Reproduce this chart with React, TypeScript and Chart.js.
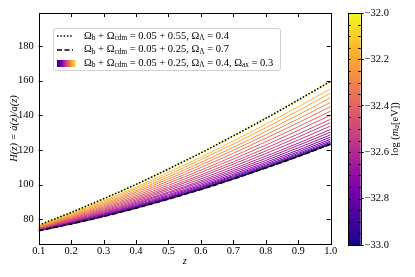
import React, { useEffect, useRef } from 'react';
import { Chart, registerables } from 'chart.js';

Chart.register(...registerables);

// ---------------- data ----------------
const zValues = [0.1, 0.2, 0.3, 0.4, 0.5, 0.6, 0.7, 0.8, 0.9, 1.0];

// Omega_b + Omega_cdm = 0.05 + 0.55, Omega_L = 0.4 (dotted)
const dottedH = [76.6, 83.9, 91.8, 100.1, 109.0, 118.3, 128.1, 138.2, 148.8, 159.6];
// Omega_b + Omega_cdm = 0.05 + 0.25, Omega_L = 0.7 (dashed)
const dashedH = [73.4, 77.3, 81.6, 86.4, 91.6, 97.2, 103.2, 109.6, 116.2, 123.3];

// log(m_a [eV]) of each coloured curve
const logMass = [
  -33.0, -32.95, -32.9, -32.85, -32.8, -32.75, -32.7, -32.65, -32.6, -32.55, -32.5,
  -32.45, -32.4, -32.35, -32.3, -32.25, -32.2, -32.15, -32.1, -32.05, -32.0,
];

// H(z) of the axion models, one row per mass (same order as logMass)
const axionH = [
  [73.4, 77.3, 81.6, 86.4, 91.6, 97.2, 103.2, 109.6, 116.2, 123.3],
  [73.4, 77.3, 81.7, 86.5, 91.7, 97.3, 103.3, 109.7, 116.4, 123.4],
  [73.4, 77.4, 81.8, 86.6, 91.9, 97.6, 103.6, 110.0, 116.8, 123.8],
  [73.5, 77.5, 81.9, 86.8, 92.2, 97.9, 104.0, 110.5, 117.3, 124.4],
  [73.6, 77.6, 82.2, 87.1, 92.5, 98.4, 104.6, 111.1, 118.0, 125.2],
  [73.7, 77.8, 82.4, 87.5, 93.0, 98.9, 105.2, 111.9, 118.9, 126.2],
  [73.8, 78.0, 82.8, 87.9, 93.6, 99.6, 106.0, 112.8, 119.9, 127.4],
  [73.9, 78.3, 83.1, 88.5, 94.2, 100.4, 107.0, 113.9, 121.2, 128.7],
  [74.0, 78.6, 83.6, 89.1, 95.0, 101.3, 108.0, 115.1, 122.6, 130.3],
  [74.2, 78.8, 84.0, 89.7, 95.7, 102.2, 109.1, 116.4, 123.9, 131.9],
  [74.3, 79.2, 84.6, 90.4, 96.7, 103.3, 110.4, 117.9, 125.7, 133.8],
  [74.5, 79.6, 85.1, 91.1, 97.6, 104.5, 111.8, 119.4, 127.4, 135.8],
  [74.7, 79.9, 85.7, 91.9, 98.5, 105.6, 113.1, 121.0, 129.2, 137.7],
  [74.9, 80.3, 86.3, 92.7, 99.6, 107.0, 114.7, 122.8, 131.3, 140.1],
  [75.1, 80.8, 87.0, 93.6, 100.8, 108.3, 116.3, 124.7, 133.4, 142.4],
  [75.3, 81.2, 87.7, 94.6, 102.0, 109.8, 118.1, 126.7, 135.7, 145.0],
  [75.6, 81.7, 88.4, 95.6, 103.2, 111.3, 119.8, 128.7, 137.9, 147.5],
  [75.8, 82.2, 89.1, 96.5, 104.4, 112.8, 121.5, 130.7, 140.2, 150.1],
  [76.0, 82.7, 89.9, 97.6, 105.7, 114.4, 123.4, 132.8, 142.6, 152.8],
  [76.3, 83.1, 90.6, 98.5, 107.0, 115.8, 125.2, 134.8, 144.9, 155.3],
  [76.6, 83.9, 91.8, 100.1, 109.0, 118.3, 128.1, 138.2, 148.8, 159.6],
];

// colour of each curve (same order as logMass)
const curveColors = [
  '#0d0887', '#260591', '#3c049b', '#5002a2', '#6601a7', '#7a02a8', '#8808a6',
  '#9613a1', '#a31e9a', '#b12a90', '#bd3786', '#c7427c', '#d04c74', '#d8576b',
  '#e16462', '#ea7457', '#f2844b', '#f89540', '#fca636', '#feb72d', '#f0f921',
];

// plasma colormap, evenly sampled, for the colour bar and legend swatch
const plasmaStops = [
  '#0d0887', '#2c0594', '#41049d', '#5402a3', '#6a00a8', '#7e03a8', '#8f0da4',
  '#a11b9b', '#b12a90', '#bf3984', '#cc4778', '#d6556d', '#e16462', '#ea7457',
  '#f2844b', '#f89540', '#fca636', '#feb72d', '#fcce25', '#f7e225', '#f0f921',
];

const xTicks = [0.1, 0.2, 0.3, 0.4, 0.5, 0.6, 0.7, 0.8, 0.9, 1.0];
const yTicks = [80, 100, 120, 140, 160, 180];
const cbTicks = [-33.0, -32.8, -32.6, -32.4, -32.2, -32.0];
const cbMinorTicks = logMass;

const Y_MIN = 65.7;
const Y_MAX = 199;

// ---------------- styling ----------------
const FAMILY = "'Liberation Serif', 'DejaVu Serif', serif";
const FS = 10.5;
const W = 415;
const H = 277;

const toXY = (vals: number[]) => zValues.map((z, i) => ({ x: z, y: vals[i] }));

const frameTicksPlugin = {
  id: 'frameTicks',
  afterDatasetsDraw(chart: any) {
    const { ctx, chartArea } = chart;
    const { left, right, top, bottom } = chartArea;
    const xs = chart.scales.x;
    const ys = chart.scales.y;
    ctx.save();
    ctx.strokeStyle = '#000';
    ctx.lineWidth = 1;
    ctx.beginPath();
    xs.ticks.forEach((t: any) => {
      const px = Math.round(xs.getPixelForValue(t.value)) + 0.5;
      ctx.moveTo(px, bottom);
      ctx.lineTo(px, bottom - 4);
      ctx.moveTo(px, top);
      ctx.lineTo(px, top + 4);
    });
    ys.ticks.forEach((t: any) => {
      const py = Math.round(ys.getPixelForValue(t.value)) + 0.5;
      ctx.moveTo(left, py);
      ctx.lineTo(left + 4, py);
      ctx.moveTo(right, py);
      ctx.lineTo(right - 4, py);
    });
    ctx.stroke();
    ctx.strokeRect(Math.round(left) + 0.5, Math.round(top) + 0.5, Math.round(right - left), Math.round(bottom - top));
    ctx.restore();
  },
};

const colorbarPlugin = {
  id: 'colorbarDeco',
  afterDatasetsDraw(chart: any) {
    const { ctx, chartArea } = chart;
    const { left, right, top, bottom } = chartArea;
    const ys = chart.scales.y;
    ctx.save();
    ctx.strokeStyle = '#000';
    ctx.lineWidth = 1;
    ctx.beginPath();
    cbMinorTicks.forEach((v) => {
      const py = Math.round(ys.getPixelForValue(v)) + 0.5;
      ctx.moveTo(left, py);
      ctx.lineTo(left + 2.5, py);
      ctx.moveTo(right, py);
      ctx.lineTo(right - 2.5, py);
    });
    ctx.stroke();
    ctx.strokeRect(Math.round(left) + 0.5, Math.round(top) + 0.5, Math.round(right - left), Math.round(bottom - top));

    // rotated label: log (m_a[eV])
    const segs = [
      { t: 'log (', italic: false, sub: false },
      { t: 'm', italic: true, sub: false },
      { t: 'a', italic: true, sub: true },
      { t: '[eV])', italic: false, sub: false },
    ];
    const fontFor = (s: any) => `${s.italic ? 'italic ' : ''}${s.sub ? FS * 0.7 : FS}px ${FAMILY}`;
    let total = 0;
    const widths = segs.map((s) => {
      ctx.font = fontFor(s);
      const w = ctx.measureText(s.t).width;
      total += w;
      return w;
    });
    ctx.translate(65, (top + bottom) / 2);
    ctx.rotate(-Math.PI / 2);
    ctx.fillStyle = '#000';
    ctx.textBaseline = 'middle';
    ctx.textAlign = 'left';
    let x = -total / 2;
    segs.forEach((s, i) => {
      ctx.font = fontFor(s);
      ctx.fillText(s.t, x, s.sub ? 2.5 : 0);
      x += widths[i];
    });
    ctx.restore();
  },
};

const Sub = ({ children }: { children: React.ReactNode }) => (
  <span style={{ fontSize: '0.7em', position: 'relative', top: '0.25em' }}>{children}</span>
);

const LegendBox = () => {
  const rowStyle = (top: number): React.CSSProperties => ({
    position: 'absolute',
    left: 0,
    top,
    height: 14,
    width: '100%',
    display: 'flex',
    alignItems: 'center',
    whiteSpace: 'nowrap',
  });
  const textStyle: React.CSSProperties = { position: 'absolute', left: 30, lineHeight: '14px' };
  return (
    <div
      style={{
        position: 'absolute',
        left: 53,
        top: 28,
        width: 228,
        height: 43,
        boxSizing: 'border-box',
        border: '1px solid #d0d0d0',
        borderRadius: 3,
        background: 'rgba(255,255,255,0.85)',
        fontFamily: FAMILY,
        fontSize: FS,
        color: '#000',
      }}
    >
      <div style={rowStyle(0)}>
        <svg width={16} height={4} style={{ position: 'absolute', left: 3 }}>
          <line x1={0} y1={2} x2={16} y2={2} stroke="#000" strokeWidth={1.6} strokeDasharray="1.5 1.8" />
        </svg>
        <span style={textStyle}>
          Ω<Sub>b</Sub> + Ω<Sub>cdm</Sub> = 0.05 + 0.55, Ω<Sub>Λ</Sub> = 0.4
        </span>
      </div>
      <div style={rowStyle(13.5)}>
        <svg width={16} height={4} style={{ position: 'absolute', left: 3 }}>
          <line x1={0} y1={2} x2={16} y2={2} stroke="#000" strokeWidth={1.6} strokeDasharray="5 2.5" />
        </svg>
        <span style={textStyle}>
          Ω<Sub>b</Sub> + Ω<Sub>cdm</Sub> = 0.05 + 0.25, Ω<Sub>Λ</Sub> = 0.7
        </span>
      </div>
      <div style={rowStyle(27)}>
        <div
          style={{
            position: 'absolute',
            left: 3,
            width: 19,
            height: 7,
            background: `linear-gradient(to right, ${plasmaStops.join(', ')})`,
          }}
        />
        <span style={textStyle}>
          Ω<Sub>b</Sub> + Ω<Sub>cdm</Sub> = 0.05 + 0.25, Ω<Sub>Λ</Sub> = 0.4, Ω<Sub>ax</Sub> = 0.3
        </span>
      </div>
    </div>
  );
};

export default function App() {
  const mainRef = useRef<HTMLCanvasElement>(null);
  const cbRef = useRef<HTMLCanvasElement>(null);

  useEffect(() => {
    document.body.style.margin = '0';
    const tickFont = { family: FAMILY, size: FS };
    const titleFont = { family: FAMILY, size: FS, style: 'italic' as const };

    const datasets: any[] = [
      {
        label: 'Ωb + Ωcdm = 0.05 + 0.55, ΩΛ = 0.4',
        data: toXY(dottedH),
        borderColor: '#000',
        borderWidth: 1.6,
        borderDash: [1.5, 1.8],
        pointRadius: 0,
        fill: false,
        cubicInterpolationMode: 'monotone',
      },
      {
        label: 'Ωb + Ωcdm = 0.05 + 0.25, ΩΛ = 0.7',
        data: toXY(dashedH),
        borderColor: '#000',
        borderWidth: 1.6,
        borderDash: [5, 2.5],
        pointRadius: 0,
        fill: false,
        cubicInterpolationMode: 'monotone',
      },
    ];
    for (let k = axionH.length - 1; k >= 0; k--) {
      datasets.push({
        label: `log m_a = ${logMass[k]}`,
        data: toXY(axionH[k]),
        borderColor: curveColors[k],
        borderWidth: 1,
        pointRadius: 0,
        fill: false,
        cubicInterpolationMode: 'monotone',
      });
    }

    const main = new Chart(mainRef.current as HTMLCanvasElement, {
      type: 'line',
      data: { datasets },
      options: {
        responsive: false,
        animation: false,
        layout: { padding: { top: 13, right: W - 330.7, left: 0, bottom: 9 } },
        plugins: { legend: { display: false }, tooltip: { enabled: false } },
        scales: {
          x: {
            type: 'linear',
            min: 0.1,
            max: 1.0,
            afterBuildTicks: (s: any) => {
              s.ticks = xTicks.map((v) => ({ value: v }));
            },
            afterFit: (s: any) => {
              s.height = 24;
            },
            ticks: {
              callback: (v: any) => Number(v).toFixed(1),
              font: tickFont,
              color: '#000',
              padding: 1,
              maxRotation: 0,
              autoSkip: false,
            },
            grid: { display: false, drawTicks: false },
            border: { display: false },
            title: { display: true, text: 'z', font: titleFont, color: '#000', padding: { top: 0, bottom: 0 } },
          },
          y: {
            type: 'linear',
            min: Y_MIN,
            max: Y_MAX,
            afterBuildTicks: (s: any) => {
              s.ticks = yTicks.map((v) => ({ value: v }));
            },
            afterFit: (s: any) => {
              s.width = 38.7;
            },
            ticks: { font: tickFont, color: '#000', padding: 5 },
            grid: { display: false, drawTicks: false },
            border: { display: false },
            title: {
              display: true,
              text: 'H(z) = ȧ(z)/a(z)',
              font: titleFont,
              color: '#000',
              padding: { top: 7.7, bottom: 0 },
            },
          },
        },
      },
      plugins: [frameTicksPlugin],
    } as any);

    const cb = new Chart(cbRef.current as HTMLCanvasElement, {
      type: 'bar',
      data: {
        labels: ['log m_a'],
        datasets: [
          {
            data: [[-33, -32]],
            barPercentage: 1,
            categoryPercentage: 1,
            borderWidth: 0,
            backgroundColor: (c: any) => {
              const ca = c.chart.chartArea;
              if (!ca) return plasmaStops[10];
              const g = c.chart.ctx.createLinearGradient(0, ca.bottom, 0, ca.top);
              plasmaStops.forEach((col, i) => g.addColorStop(i / (plasmaStops.length - 1), col));
              return g;
            },
          },
        ],
      },
      options: {
        responsive: false,
        animation: false,
        layout: { padding: { top: 13, bottom: H - 245, left: 18, right: 0 } },
        plugins: { legend: { display: false }, tooltip: { enabled: false } },
        scales: {
          x: { display: false },
          y: {
            position: 'right',
            min: -33,
            max: -32,
            afterBuildTicks: (s: any) => {
              s.ticks = cbTicks.map((v) => ({ value: v }));
            },
            afterFit: (s: any) => {
              s.width = 85 - 30.7;
            },
            ticks: {
              callback: (v: any) => '\u2212' + Math.abs(Number(v)).toFixed(1),
              font: tickFont,
              color: '#000',
              padding: 1,
            },
            grid: { display: true, drawOnChartArea: false, drawTicks: true, tickLength: 3, color: '#000' },
            border: { display: false },
          },
        },
      },
      plugins: [colorbarPlugin],
    } as any);

    return () => {
      main.destroy();
      cb.destroy();
    };
  }, []);

  return (
    <div style={{ position: 'fixed', left: 0, top: 0, width: W, height: H, background: '#fff', overflow: 'hidden' }}>
      <canvas ref={mainRef} width={W} height={H} style={{ position: 'absolute', left: 0, top: 0, width: W, height: H }} />
      <canvas ref={cbRef} width={85} height={H} style={{ position: 'absolute', left: 330, top: 0, width: 85, height: H }} />
      <LegendBox />
    </div>
  );
}
